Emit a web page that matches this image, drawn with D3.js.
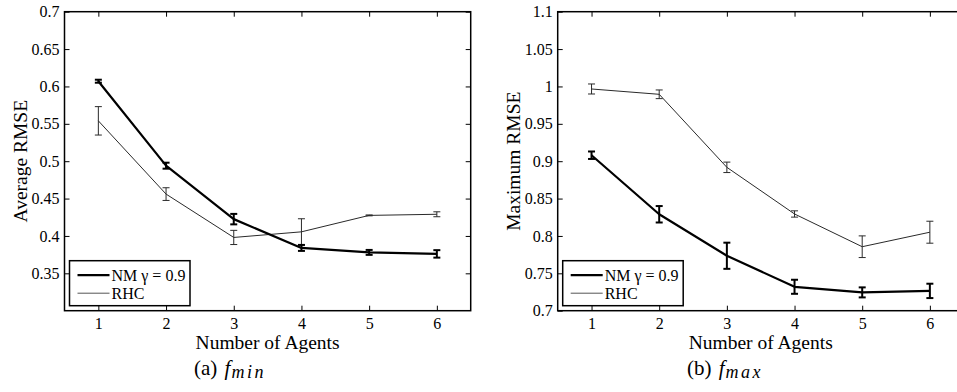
<!DOCTYPE html>
<html>
<head>
<meta charset="utf-8">
<script src="https://cdn.jsdelivr.net/npm/d3@7/dist/d3.min.js"></script>
<style>
  html, body { margin: 0; padding: 0; background: #fff; overflow: hidden; }
  svg, svg text { font-family: "Liberation Serif", "DejaVu Serif", "Times New Roman", Times, serif; }
</style>
</head>
<body>
<svg id="chart" width="957" height="392"></svg>
<script>
// ---- data ----
const agents = [1, 2, 3, 4, 5, 6];
const xTicks = [1, 2, 3, 4, 5, 6];

// (a) f_min : Average RMSE
const minNM      = [0.607, 0.494, 0.4225, 0.384, 0.378, 0.376];
const minNMErr   = [0.002, 0.004, 0.007, 0.004, 0.0033, 0.005];
const minRHC     = [0.554, 0.456, 0.398, 0.4055, 0.4275, 0.429];
const minRHCErr  = [0.019, 0.0085, 0.0095, 0.0175, 0.0006, 0.0033];
const minYTicks  = [0.35, 0.4, 0.45, 0.5, 0.55, 0.6, 0.65, 0.7];
const minYDomain = [0.3, 0.7];

// (b) f_max : Maximum RMSE
const maxNM      = [0.908, 0.829, 0.7735, 0.732, 0.7245, 0.7265];
const maxNMErr   = [0.005, 0.011, 0.0175, 0.0094, 0.0067, 0.0096];
const maxRHC     = [0.9966, 0.9895, 0.8918, 0.8294, 0.7856, 0.805];
const maxRHCErr  = [0.0067, 0.0058, 0.007, 0.0042, 0.0145, 0.0147];
const maxYTicks  = [0.7, 0.75, 0.8, 0.85, 0.9, 0.95, 1, 1.05, 1.1];
const maxYDomain = [0.7, 1.1];

const seriesNames = ["NM \u03b3 = 0.9", "RHC"];

// ---- drawing ----
const FONT = '"Liberation Serif", "DejaVu Serif", "Times New Roman", Times, serif';
const svg = d3.select("#chart");

function panel(opts) {
  const { left, right, top, bottom, yDomain, yTicks, nm, nmErr, rhc, rhcErr,
          yLabel, yLabelX, capLetter, capSub, capX } = opts;
  const x = d3.scaleLinear().domain([0.5, 6.5]).range([left, right]);
  const y = d3.scaleLinear().domain(yDomain).range([bottom, top]);
  const g = svg.append("g");

  const fmt = d => String(+d.toFixed(2));

  // axes with inward ticks
  const ax = g.append("g").attr("class", "axes");
  ax.append("g").attr("transform", `translate(${left},0)`)
    .call(d3.axisLeft(y).tickValues(yTicks).tickSizeInner(-5).tickSizeOuter(0).tickPadding(5).tickFormat(fmt));
  ax.append("g").attr("transform", `translate(${right},0)`)
    .call(d3.axisRight(y).tickValues(yTicks).tickSizeInner(-5).tickSizeOuter(0).tickFormat(""));
  ax.append("g").attr("transform", `translate(0,${bottom})`)
    .call(d3.axisBottom(x).tickValues(xTicks).tickSizeInner(-5).tickSizeOuter(0).tickPadding(7).tickFormat(d3.format("d")));
  ax.append("g").attr("transform", `translate(0,${top})`)
    .call(d3.axisTop(x).tickValues(xTicks).tickSizeInner(-5).tickSizeOuter(0).tickFormat(""));
  ax.selectAll(".domain").remove();
  ax.selectAll("g").attr("font-family", null).style("font-family", FONT);
  ax.selectAll(".tick line").attr("stroke", "#000").attr("stroke-width", 1);
  ax.selectAll(".tick text").attr("font-size", 16).attr("fill", "#000")
    .style("font-family", FONT);

  g.append("rect").attr("x", left).attr("y", top)
    .attr("width", right - left).attr("height", bottom - top)
    .attr("fill", "none").attr("stroke", "#000").attr("stroke-width", 1.5);

  const line = d3.line().x(d => x(d.a)).y(d => y(d.v));

  function series(vals, errs, color, lw, elw) {
    const data = agents.map((a, i) => ({ a, v: vals[i], e: errs[i] }));
    g.append("path").datum(data).attr("d", line)
      .attr("fill", "none").attr("stroke", color).attr("stroke-width", lw)
      .attr("stroke-linejoin", "round");
    const eb = g.append("g").attr("stroke", color).attr("stroke-width", elw).attr("fill", "none");
    data.forEach(d => {
      const cx = x(d.a), y1 = y(d.v + d.e), y2 = y(d.v - d.e);
      eb.append("line").attr("x1", cx).attr("x2", cx).attr("y1", y1).attr("y2", y2);
      eb.append("line").attr("x1", cx - 3.5).attr("x2", cx + 3.5).attr("y1", y1).attr("y2", y1);
      eb.append("line").attr("x1", cx - 3.5).attr("x2", cx + 3.5).attr("y1", y2).attr("y2", y2);
    });
  }
  series(rhc, rhcErr, "#2a2a2a", 1, 1);
  series(nm, nmErr, "#000", 2.2, 2);

  // legend
  const lx = left + 5, ly = bottom - 50;
  const lg = g.append("g");
  lg.append("rect").attr("x", lx).attr("y", ly).attr("width", 120.5).attr("height", 45)
    .attr("fill", "#fff").attr("stroke", "#000").attr("stroke-width", 1.5);
  const rows = [
    { name: seriesNames[0], color: "#000", w: 2.2, dy: 14.5 },
    { name: seriesNames[1], color: "#555", w: 1, dy: 32.5 }
  ];
  rows.forEach(r => {
    lg.append("line").attr("x1", lx + 8).attr("x2", lx + 40)
      .attr("y1", ly + r.dy).attr("y2", ly + r.dy)
      .attr("stroke", r.color).attr("stroke-width", r.w);
    lg.append("text").attr("x", lx + 42).attr("y", ly + r.dy).attr("dy", "0.35em")
      .attr("font-size", 16).attr("fill", "#000").style("font-family", FONT).text(r.name);
  });

  // axis titles
  g.append("text").attr("x", (left + right) / 2).attr("y", 349)
    .attr("text-anchor", "middle").attr("font-size", 19.5).attr("fill", "#000")
    .style("font-family", FONT).text("Number of Agents");
  g.append("text").attr("transform", `translate(${yLabelX},${(top + bottom) / 2}) rotate(-90)`)
    .attr("text-anchor", "middle").attr("font-size", 19.5).attr("fill", "#000")
    .style("font-family", FONT).text(yLabel);

  // caption
  const cap = g.append("text").attr("x", capX).attr("y", 375)
    .attr("font-size", 21).attr("fill", "#000").style("font-family", FONT);
  cap.append("tspan").text(`(${capLetter})\u00a0`);
  cap.append("tspan").attr("dx", 2).attr("font-style", "italic").text("f");
  cap.append("tspan").attr("font-style", "italic").attr("font-size", 18)
    .attr("dx", 1).attr("dy", 3).attr("letter-spacing", 2.5).text(capSub);
}

panel({
  left: 64.5, right: 470.7, top: 11.7, bottom: 310.7,
  yDomain: minYDomain, yTicks: minYTicks,
  nm: minNM, nmErr: minNMErr, rhc: minRHC, rhcErr: minRHCErr,
  yLabel: "Average RMSE", yLabelX: 27, capLetter: "a", capSub: "min", capX: 194
});
panel({
  left: 557.7, right: 963.7, top: 11.7, bottom: 310.7,
  yDomain: maxYDomain, yTicks: maxYTicks,
  nm: maxNM, nmErr: maxNMErr, rhc: maxRHC, rhcErr: maxRHCErr,
  yLabel: "Maximum RMSE", yLabelX: 520, capLetter: "b", capSub: "max", capX: 687
});
</script>
</body>
</html>
